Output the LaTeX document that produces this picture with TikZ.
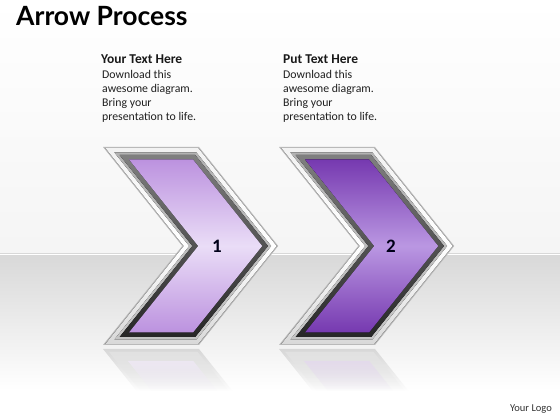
\documentclass[tikz,border=0pt]{standalone}
\usepackage{fontspec}
\setmainfont{Carlito}
\newfontfamily\titlefont{Lato}
\usetikzlibrary{fadings}
\definecolor{lilacTop}{HTML}{BC92DF}
\definecolor{lilacMid}{HTML}{EADDF7}
\definecolor{violetTop}{HTML}{7639B0}
\definecolor{violetMid}{HTML}{BA97E2}
\definecolor{floorGray}{HTML}{D8D8D8}
\tikzfading[name=reflfade, top color=transparent!30, bottom color=transparent!100]
\newcommand\chev[2]{({#1+2.08*#2},{273-#2}) -- ({#1+96-0.48*#2},{273-#2}) -- ({#1+175.2-1.28*#2},174) -- ({#1+96-0.48*#2},{75+#2}) -- ({#1+2.08*#2},{75+#2}) -- ({#1+79.2+1.28*#2},174) -- cycle}
\newcommand\refl[2]{({#1+2.08*#2},{71-#2}) -- ({#1+96-0.48*#2},{71-#2}) -- ({#1+96-0.48*#2+0.8*(42-#2)},29) -- ({#1+2.08*#2+0.8*(42-#2)},29) -- cycle}
\tikzset{
  rimedge/.style={fill=gray!55},
  rimlight/.style={top color=gray!10, bottom color=gray!30, middle color=white},
  rimshade/.style={top color=gray!60, bottom color=gray!45},
  rimdark/.style={top color=black!50, bottom color=black!85},
  headtext/.style={font=\bfseries\fontsize{13.5}{14}\selectfont, anchor=base west, inner sep=0, text=black!90},
  bodytext/.style={font=\fontsize{11.8}{14}\selectfont, align=left, anchor=north west, inner sep=0, text=black!88},
  numtext/.style={font=\bfseries\fontsize{19}{19}\selectfont, text=black!90!blue}
}
\begin{document}
\begin{tikzpicture}[x=1pt,y=1pt]
\useasboundingbox (0,0) rectangle (560,420);
\fill[top color=white, bottom color=gray!8] (0,166) rectangle (560,420);
\fill[top color=floorGray, bottom color=white] (0,30) rectangle (560,166);
\fill[white] (0,0) rectangle (560,30);
\draw[white, line width=0.8] (0,166) -- (560,166);
\foreach \x/\top/\mid in {103/lilacTop/lilacMid, 279/violetTop/violetMid}{
  \fill[gray!40, path fading=reflfade] \refl{\x}{0};
  \fill[white!80!gray, path fading=reflfade] \refl{\x}{3};
  \fill[\top!20, path fading=reflfade] \refl{\x}{12};
  \fill[rimedge] \chev{\x}{0};
  \fill[rimlight] \chev{\x}{1.2};
  \fill[rimshade] \chev{\x}{5.5};
  \fill[rimdark] \chev{\x}{8};
  \fill[top color=\top, bottom color=\top, middle color=\mid] \chev{\x}{12.5};
}
\node[numtext] (one) at (217,174) {1};
\node[numtext] (two) at (391,174) {2};
\node[font=\titlefont\bfseries\fontsize{26.5}{26}\selectfont, anchor=base west, inner sep=0] (title) at (16,394) {Arrow Process};
\node[headtext] (headone) at (101,356) {Your Text Here};
\node[bodytext] (bodyone) at (102,350) {Download this\\awesome diagram.\\Bring your\\presentation to life.};
\node[headtext] (headtwo) at (283,356) {Put Text Here};
\node[bodytext] (bodytwo) at (283,350) {Download this\\awesome diagram.\\Bring your\\presentation to life.};
\node[font=\fontsize{10.5}{10}\selectfont, text=black!80] (logo) at (531,11) {Your Logo};
\end{tikzpicture}
\end{document}
